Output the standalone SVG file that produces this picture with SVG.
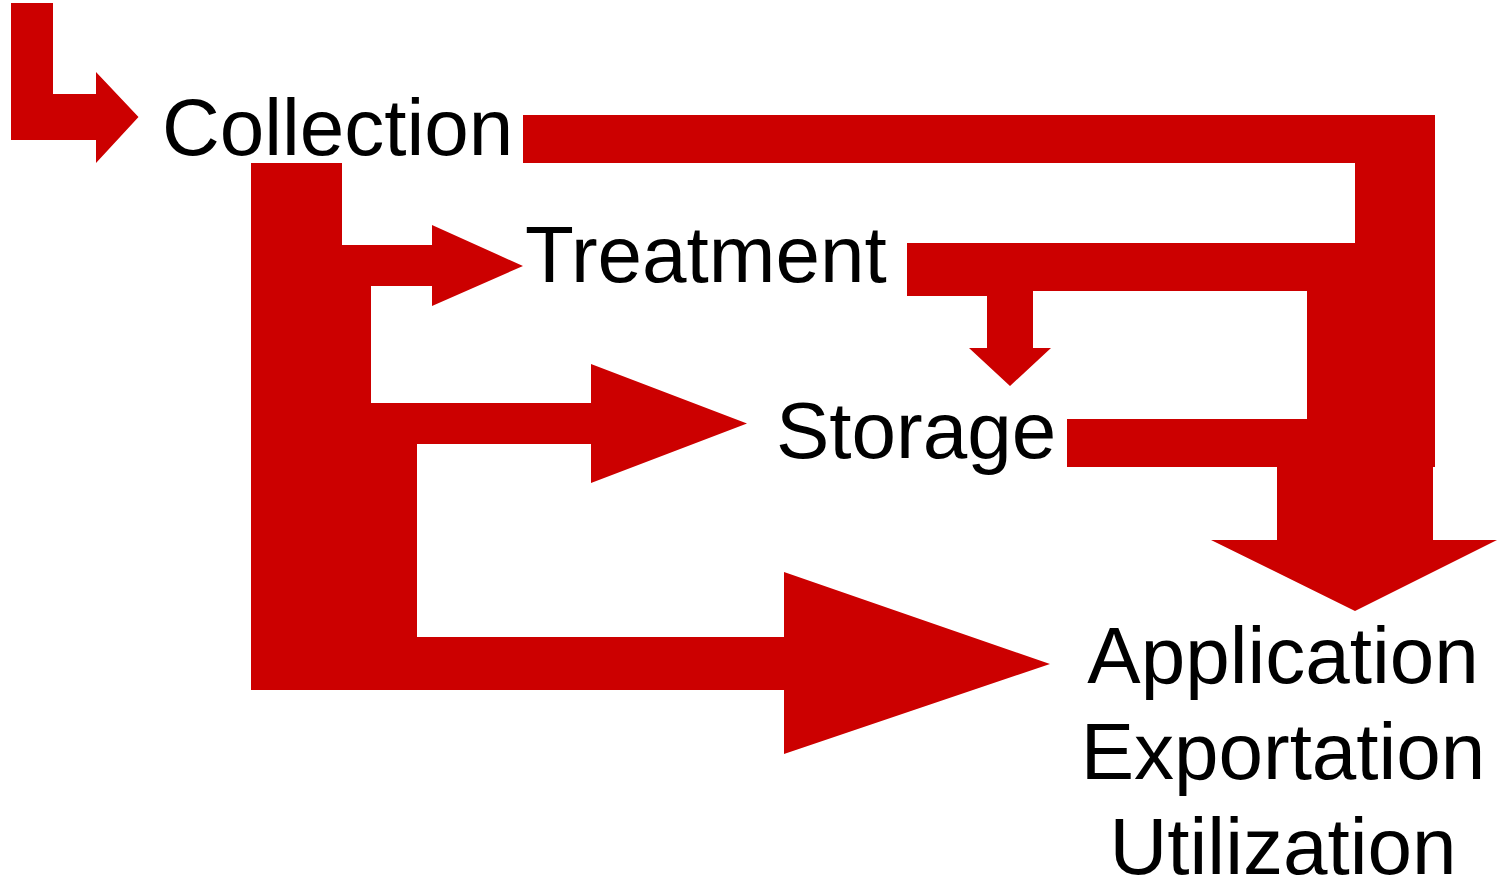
<svg xmlns="http://www.w3.org/2000/svg" width="1497" height="879" viewBox="0 0 1497 879">
<style>
.c{fill:#CC0000;stroke:none}
.t{font-family:"Liberation Sans",Arial,sans-serif;font-size:80px;fill:#000}
</style>
<rect width="1497" height="879" fill="#fff"/>
<g id="connectors">
<polygon class="c" points="11,3 53,3 53,94 96,94 96,72 138.5,117 96,163 96,140 11,140"/>
<polygon class="c" points="251,163 342,163 342,245 432,245 432,225 523,266 432,306 432,286 371,286 371,403 591,403 591,364 747,423.5 591,483 591,444 417,444 417,637 784,637 784,572 1050,664 784,754 784,690 251,690"/>
<polygon class="c" points="523,115 1435,115 1435,467 1433,467 1433,540 1497,540 1355,611 1211,540 1277,540 1277,467 1067,467 1067,419 1307,419 1307,291 1033,291 1033,348 1051,348 1010,386 969,348 987,348 987,296 907,296 907,243 1355,243 1355,163 523,163"/>
</g>
<g id="collection"><text class="t" x="162" y="154.5">Collection</text></g>
<g id="treatment"><text class="t" x="525" y="282">Treatment</text></g>
<g id="storage"><text class="t" x="776" y="458">Storage</text></g>
<g id="application"><text class="t" text-anchor="middle" x="1283" y="683">Application</text><text class="t" text-anchor="middle" x="1283" y="779">Exportation</text><text class="t" text-anchor="middle" x="1283" y="874">Utilization</text></g>
</svg>
